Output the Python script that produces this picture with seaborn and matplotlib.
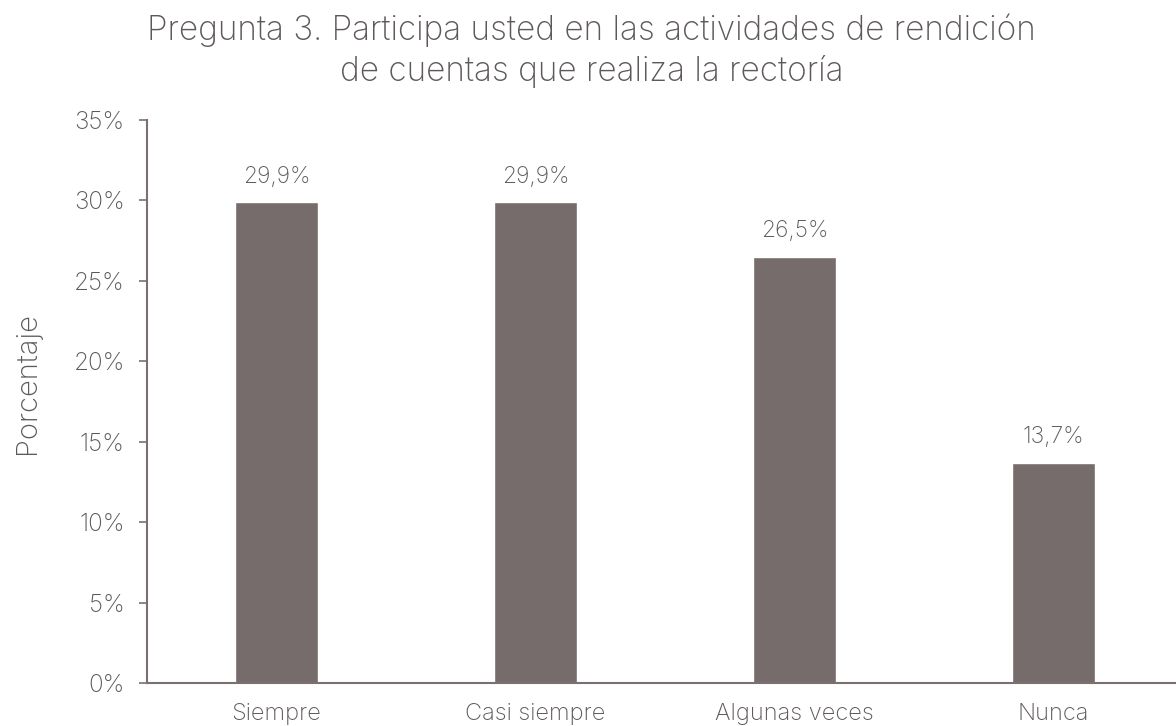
import matplotlib
matplotlib.use("Agg")
import matplotlib.pyplot as plt
import seaborn as sns
import pandas as pd
from matplotlib.ticker import FuncFormatter, MultipleLocator

categories = ["Siempre", "Casi siempre", "Algunas veces", "Nunca"]
values = [29.9, 29.9, 26.5, 13.7]
labels = ["29,9%", "29,9%", "26,5%", "13,7%"]

sns.set_style("white")
plt.rcParams['font.family'] = ['Inter', 'DejaVu Sans']
plt.rcParams['font.weight'] = 'light'

text_color = "#5e5858"
bar_color = "#766c6c"
axis_color = "#7a7070"

fig = plt.figure(figsize=(11.76, 7.26), dpi=100)
ax = fig.add_axes([147/1176, 43/726, 1029/1176, 563/726])

df = pd.DataFrame({"cat": categories, "val": values})
sns.barplot(data=df, x="cat", y="val", color=bar_color, width=0.317,
            saturation=1, ax=ax)

ax.set_xlim(-0.5, -0.5 + 1029/259)
ax.set_ylim(0, 35)
ax.yaxis.set_major_locator(MultipleLocator(5))
ax.yaxis.set_major_formatter(FuncFormatter(lambda v, p: f"{v:.0f}%"))

for i, (v, lab) in enumerate(zip(values, labels)):
    ax.text(i, v + 0.9, lab, ha="center", va="bottom", fontsize=16.5,
            color=text_color, fontweight="light")

for s in ["top", "right"]:
    ax.spines[s].set_visible(False)
for s in ["left", "bottom"]:
    ax.spines[s].set_color(axis_color)
    ax.spines[s].set_linewidth(1.5)

ax.tick_params(axis="y", left=True, length=6, width=1.2, color=axis_color,
               labelsize=17.5, labelcolor=text_color, pad=10)
ax.tick_params(axis="x", bottom=False, labelsize=17, labelcolor=text_color, pad=11)
ax.set_xlabel("")
ax.set_ylabel("Porcentaje", fontsize=21, color=text_color, labelpad=23,
              fontweight="light")
ax.yaxis.label.set_y(0.533)

fig.suptitle("Pregunta 3. Participa usted en las actividades de rendición\nde cuentas que realiza la rectoría",
             x=0.503, y=0.982, fontsize=24, color=text_color, linespacing=1.32,
             fontweight="light")

fig.savefig("out.png", dpi=100)
